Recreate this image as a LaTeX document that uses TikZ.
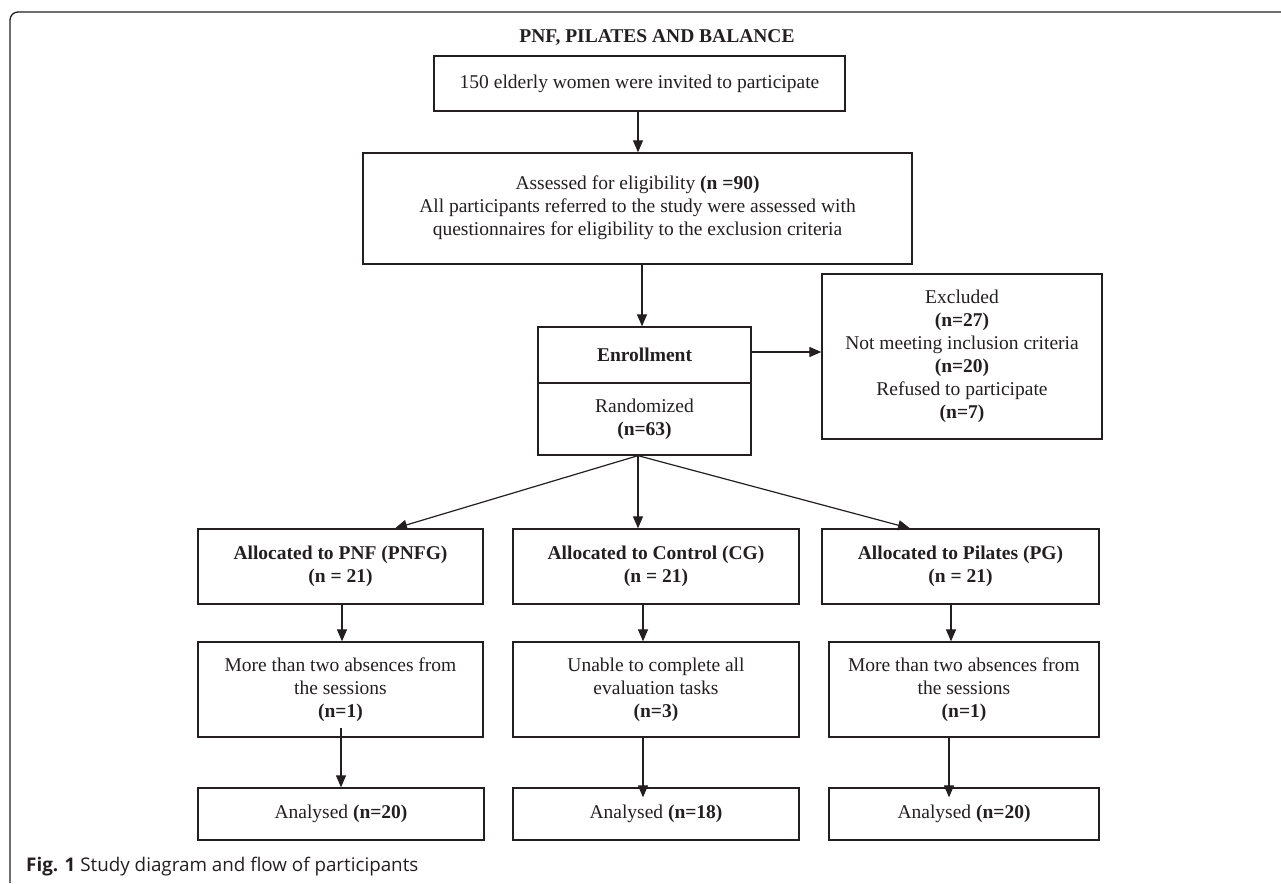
\documentclass[tikz,border=0pt]{standalone}
\usepackage{fontspec}
\setmainfont{Liberation Serif}
\newfontfamily\capfont{Open Sans}
\usetikzlibrary{arrows.meta,calc}
\definecolor{ink}{HTML}{231F20}
\begin{document}
\begin{tikzpicture}[x=1pt,y=-1pt,
  box/.style={draw=ink, line width=1.3pt, inner sep=0pt, align=center, text=ink,
    font=\fontsize{19.5}{23}\selectfont},
  arr/.style={draw=ink, line width=1.2pt, -{Triangle[length=12pt,width=10pt]}}]
\useasboundingbox (0,0) rectangle (1281,883);
% outer frame
\draw[ink, line width=1.3pt, rounded corners=8pt] (10,883) -- (10,12) -- (1281,12);
% title
\node[text=ink, inner sep=0pt, font=\bfseries\fontsize{19.5}{23}\selectfont] (title) at (657,38) {PNF, PILATES AND BALANCE};
% boxes
\node[box, minimum width=411pt, minimum height=55pt] (b1) at (639.5,83.5) {150 elderly women were invited to participate};
\node[box, minimum width=549pt, minimum height=111pt] (b2) at (637.5,208.5) {Assessed for eligibility \textbf{(n =90)}\\All participants referred to the study were assessed with\\questionnaires for eligibility to the exclusion criteria\\[-18pt]\mbox{}};
\node[box, minimum width=213pt, minimum height=56pt] (enr) at (644.5,355) {\textbf{Enrollment}};
\node[box, minimum width=213pt, minimum height=72pt] (rnd) at (644.5,419) {Randomized\\\textbf{(n=63)}};
\node[box, minimum width=280pt, minimum height=165pt] (exc) at (962,356.5) {Excluded\\\textbf{(n=27)}\\Not meeting inclusion criteria\\\textbf{(n=20)}\\Refused to participate\\\textbf{(n=7)}};
% allocation
\node[box, minimum width=285pt, minimum height=75pt] (pa) at (340.5,566.5) {\textbf{Allocated to PNF (PNFG)}\\\textbf{(n = 21)}};
\node[box, minimum width=286pt, minimum height=75pt] (ca) at (656,566.5) {\textbf{Allocated to Control (CG)}\\\textbf{(n = 21)}};
\node[box, minimum width=277pt, minimum height=75pt] (ga) at (960.5,566.5) {\textbf{Allocated to Pilates (PG)}\\\textbf{(n = 21)}};
% losses
\node[box, minimum width=285pt, minimum height=95pt] (pl) at (340.5,689.5) {More than two absences from\\the sessions\\\textbf{(n=1)}};
\node[box, minimum width=286pt, minimum height=95pt] (cl) at (656,689.5) {Unable to complete all\\evaluation tasks\\\textbf{(n=3)}};
\node[box, minimum width=270pt, minimum height=95pt] (gl) at (964,689.5) {More than two absences from\\the sessions\\\textbf{(n=1)}};
% analysed
\node[box, minimum width=286pt, minimum height=52pt] (pn) at (341,814) {Analysed \textbf{(n=20)}};
\node[box, minimum width=286pt, minimum height=52pt] (cn) at (656,814) {Analysed \textbf{(n=18)}};
\node[box, minimum width=270pt, minimum height=52pt] (gn) at (964,814) {Analysed \textbf{(n=20)}};
% caption
\node[anchor=west, text=ink, inner sep=0pt, font=\capfont\fontsize{18.8}{22}\selectfont] (cap) at (26,867) {\textbf{Fig. 1} Study diagram and flow of participants};
% connectors
\draw[arr] ([xshift=-1.5pt]b1.south) -- ([xshift=-1.5pt]b1.south |- b2.north);
\draw[arr] ([xshift=-2.5pt]enr.north |- b2.south) -- ([xshift=-2.5pt]enr.north);
\draw[arr] ([yshift=3pt]enr.east) -- ([yshift=3pt]enr.east -| exc.west);
\draw[arr] ([xshift=-6.5pt]rnd.south) -- ([xshift=54.5pt]pa.north);
\draw[arr] ([xshift=-6.5pt]rnd.south) -- ([xshift=-6.5pt]rnd.south |- ca.north);
\draw[arr] ([xshift=-6.5pt]rnd.south) -- ([xshift=-50.5pt]ga.north);
\draw[arr] ([xshift=1.5pt]pa.south) -- ([xshift=1.5pt]pa.south |- pl.north);
\draw[arr] ([xshift=-13pt]ca.south) -- ([xshift=-13pt]ca.south |- cl.north);
\draw[arr] ([xshift=-9.5pt]ga.south) -- ([xshift=-9.5pt]ga.south |- gl.north);
\draw[arr] ([xshift=0.5pt,yshift=10pt]pl.south) -- ([xshift=0.5pt]pl.south |- pn.north);
\draw[arr] ([xshift=-13pt]cl.south) -- ([xshift=-13pt,yshift=-10pt]cl.south |- cn.north);
\draw[arr] ([xshift=-15pt]gl.south) -- ([xshift=-15pt,yshift=-10pt]gl.south |- gn.north);
\end{tikzpicture}
\end{document}
